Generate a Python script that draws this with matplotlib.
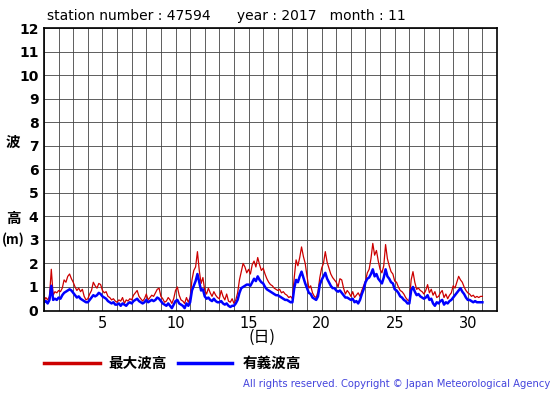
#!/usr/bin/env python3
"""Wave height chart (max / significant) for one station and month."""

import matplotlib

matplotlib.use("Agg")
import matplotlib.pyplot as plt
import numpy as np
from matplotlib.lines import Line2D

STATION = "47594"
YEAR = 2017
MONTH = 11

# 3-hourly readings per day (0h, 3h, ..., 21h), days 1..30, then day 31 0h
MAX_WAVE = [
    0.40, 0.55, 0.45, 0.60, 1.75, 0.65, 0.80, 0.75,
    0.85, 0.80, 0.95, 1.30, 1.20, 1.45, 1.55, 1.35,
    1.20, 1.00, 0.85, 0.95, 0.80, 0.90, 0.60, 0.45,
    0.50, 0.70, 0.85, 1.20, 1.05, 0.95, 1.15, 1.10,
    0.85, 0.75, 0.80, 0.60, 0.55, 0.45, 0.50, 0.40,
    0.35, 0.45, 0.40, 0.55, 0.30, 0.45, 0.40, 0.50,
    0.45, 0.65, 0.75, 0.85, 0.60, 0.50, 0.40, 0.50,
    0.70, 0.45, 0.55, 0.65, 0.60, 0.75, 0.90, 0.95,
    0.60, 0.50, 0.35, 0.40, 0.55, 0.45, 0.30, 0.50,
    0.85, 1.00, 0.65, 0.45, 0.40, 0.30, 0.55, 0.35,
    0.55, 1.30, 1.70, 1.85, 2.50, 1.70, 1.15, 1.40,
    0.85, 0.70, 0.95, 0.75, 0.60, 0.80, 0.65, 0.55,
    0.50, 0.85, 0.60, 0.45, 0.70, 0.40, 0.35, 0.50,
    0.30, 0.45, 0.75, 1.30, 1.65, 2.00, 1.85, 1.60,
    1.75, 1.55, 1.95, 2.10, 1.85, 2.25, 1.95, 1.70,
    1.80, 1.55, 1.35, 1.20, 1.10, 1.05, 0.95, 0.90,
    0.85, 0.90, 0.75, 0.80, 0.70, 0.65, 0.55, 0.60,
    0.50, 1.40, 2.15, 1.90, 2.25, 2.70, 2.30, 2.00,
    1.45, 0.95, 1.05, 0.75, 0.60, 0.55, 0.80, 1.40,
    1.80, 2.00, 2.50, 2.05, 1.80, 1.55, 1.40, 1.30,
    1.20, 1.00, 1.35, 1.30, 0.95, 0.70, 0.85, 0.75,
    0.60, 0.80, 0.55, 0.65, 0.75, 0.60, 0.85, 1.05,
    1.25, 1.60, 1.75, 2.20, 2.85, 2.35, 2.55, 2.10,
    1.75, 1.60, 1.90, 2.80, 2.20, 1.90, 1.65, 1.55,
    1.25, 1.20, 1.00, 0.85, 0.80, 0.70, 0.55, 0.45,
    0.40, 1.30, 1.65, 1.20, 0.90, 0.95, 0.85, 0.80,
    0.70, 0.85, 1.10, 0.75, 0.90, 0.65, 0.80, 0.55,
    0.60, 0.75, 0.85, 0.55, 0.70, 0.50, 0.65, 0.75,
    1.05, 0.95, 1.20, 1.45, 1.30, 1.20, 1.00, 0.85,
    0.75, 0.70, 0.60, 0.65, 0.55, 0.60, 0.55, 0.60,
    0.60,
]

SIG_WAVE = [
    0.35, 0.40, 0.30, 0.45, 1.05, 0.45, 0.50, 0.45,
    0.55, 0.50, 0.65, 0.75, 0.80, 0.85, 0.90, 0.85,
    0.75, 0.65, 0.55, 0.60, 0.50, 0.45, 0.40, 0.35,
    0.35, 0.45, 0.55, 0.65, 0.60, 0.65, 0.75, 0.70,
    0.60, 0.55, 0.50, 0.40, 0.35, 0.30, 0.35, 0.25,
    0.25, 0.30, 0.20, 0.30, 0.25, 0.20, 0.30, 0.35,
    0.30, 0.40, 0.45, 0.50, 0.40, 0.35, 0.30, 0.35,
    0.45, 0.35, 0.40, 0.45, 0.40, 0.45, 0.55, 0.50,
    0.40, 0.30, 0.25, 0.20, 0.30, 0.20, 0.10, 0.25,
    0.40, 0.45, 0.30, 0.25, 0.20, 0.10, 0.30, 0.20,
    0.35, 0.85, 1.05, 1.25, 1.55, 1.20, 0.85, 0.90,
    0.60, 0.50, 0.55, 0.45, 0.40, 0.50, 0.40, 0.35,
    0.35, 0.40, 0.30, 0.25, 0.30, 0.20, 0.15, 0.20,
    0.20, 0.30, 0.45, 0.75, 0.95, 1.00, 1.05, 1.10,
    1.10, 1.05, 1.20, 1.35, 1.25, 1.45, 1.30, 1.20,
    1.15, 1.00, 0.90, 0.85, 0.80, 0.75, 0.70, 0.65,
    0.65, 0.60, 0.55, 0.50, 0.45, 0.45, 0.40, 0.35,
    0.35, 0.95, 1.30, 1.20, 1.45, 1.65, 1.40, 1.15,
    0.95, 0.75, 0.70, 0.55, 0.50, 0.45, 0.60, 1.10,
    1.30, 1.45, 1.60, 1.35, 1.20, 1.05, 0.95, 0.95,
    0.85, 0.80, 0.85, 0.75, 0.65, 0.55, 0.55, 0.50,
    0.45, 0.50, 0.35, 0.40, 0.30, 0.45, 0.70, 0.90,
    1.20, 1.35, 1.40, 1.55, 1.75, 1.45, 1.55, 1.35,
    1.25, 1.15, 1.40, 1.75, 1.45, 1.35, 1.20, 1.15,
    0.90, 0.85, 0.75, 0.60, 0.55, 0.45, 0.40, 0.30,
    0.30, 0.85, 1.00, 0.80, 0.65, 0.70, 0.60, 0.55,
    0.50, 0.55, 0.65, 0.45, 0.50, 0.30, 0.20, 0.35,
    0.30, 0.40, 0.45, 0.25, 0.35, 0.30, 0.40, 0.45,
    0.55, 0.65, 0.75, 0.85, 0.95, 0.80, 0.70, 0.55,
    0.45, 0.45, 0.40, 0.35, 0.40, 0.35, 0.35, 0.35,
    0.35,
]

X_TICKS = [5, 10, 15, 20, 25, 30]
Y_TICKS = list(range(0, 13))

RED = "#cc0000"
BLUE = "#0000ff"

W, H = 555, 395


def fx(px):
    return px / W


def fy(py):
    return 1 - py / H


def main():
    plt.rcParams["font.family"] = ["DejaVu Sans", "Noto Sans CJK JP"]
    fig = plt.figure(figsize=(5.55, 3.95), dpi=100)
    ax = fig.add_axes([fx(44), fy(310.5), fx(497) - fx(44), fy(28) - fy(310.5)])

    days = 1 + np.arange(len(MAX_WAVE)) / 8.0
    ax.plot(days, MAX_WAVE, color=RED, linewidth=0.9)
    ax.plot(days, SIG_WAVE, color=BLUE, linewidth=1.8)

    ax.set_xlim(1, 32)
    ax.set_ylim(0, 12)
    ax.set_xticks(np.arange(1, 33), minor=True)
    ax.set_xticks(X_TICKS)
    ax.set_yticks(Y_TICKS)
    ax.grid(True, which="both", axis="x", color="#444444", linewidth=0.6)
    ax.grid(True, which="major", axis="y", color="#444444", linewidth=0.6)
    ax.set_axisbelow(True)
    ax.tick_params(axis="x", which="both", length=0, labelsize=10.5, pad=4)
    ax.tick_params(axis="y", length=0, labelsize=10, pad=4)
    for lab in ax.get_yticklabels():
        lab.set_fontweight("bold")
    for sp in ax.spines.values():
        sp.set_linewidth(1.2)

    fig.text(fx(47), fy(16), f"station number : {STATION}      year : {YEAR}   month : {MONTH}",
             fontsize=10, va="center", ha="left")

    jp = ["Noto Sans CJK JP", "DejaVu Sans"]
    fig.text(fx(13), fy(142), "波", family=jp, fontsize=10.5, fontweight="bold", ha="center", va="center")
    fig.text(fx(13), fy(218), "高", family=jp, fontsize=10.5, fontweight="bold", ha="center", va="center")
    fig.text(fx(13), fy(240), "(m)", family=jp, fontsize=9.5, fontweight="bold", ha="center", va="center")
    fig.text(fx(262), fy(337), "(日)", family=jp, fontsize=11.5, ha="center", va="center")

    fig.add_artist(Line2D([fx(44), fx(100)], [fy(363), fy(363)], color=RED, linewidth=2.5))
    fig.text(fx(108), fy(363), "最大波高", family=jp, fontsize=10.5, fontweight="bold", va="center")
    fig.add_artist(Line2D([fx(178), fx(232)], [fy(363), fy(363)], color=BLUE, linewidth=2.5))
    fig.text(fx(243), fy(363), "有義波高", family=jp, fontsize=10.5, fontweight="bold", va="center")

    fig.text(fx(550), fy(384), "All rights reserved. Copyright \u00a9 Japan Meteorological Agency",
             fontsize=7.2, color="#4444dd", ha="right", va="center")

    fig.savefig("out.png", dpi=100)


if __name__ == "__main__":
    main()
